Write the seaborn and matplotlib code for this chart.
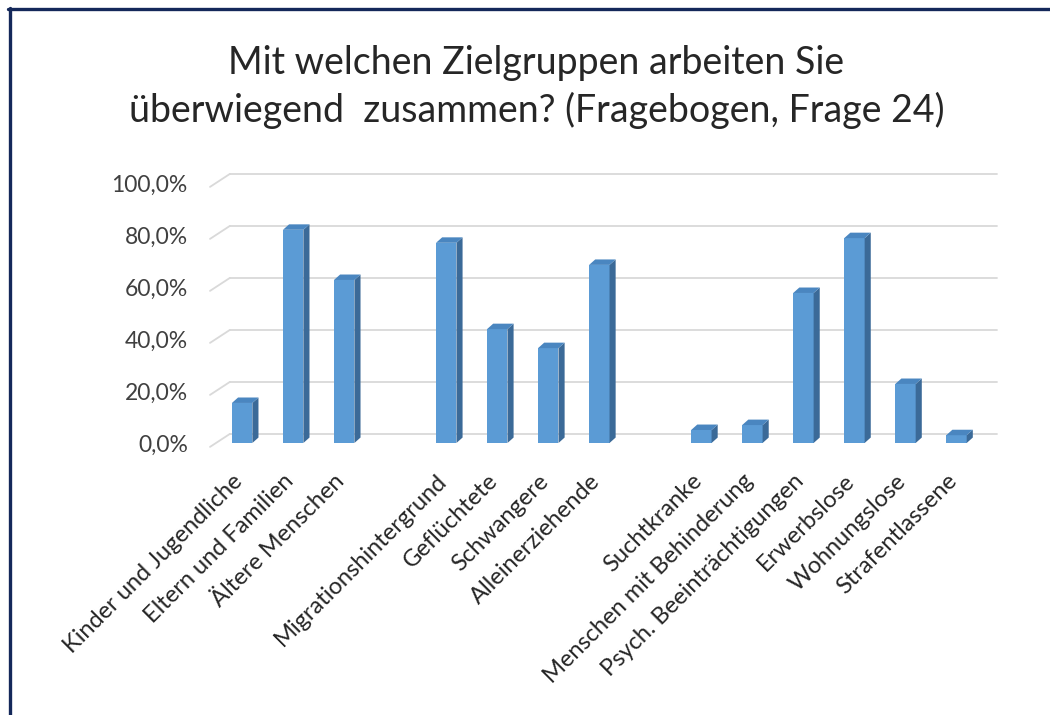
import matplotlib
matplotlib.use("Agg")
import matplotlib.pyplot as plt
from matplotlib.patches import Polygon
from matplotlib.transforms import ScaledTranslation
import numpy as np
import pandas as pd
import seaborn as sns

# data (percent of respondents)
gruppen = ["Kinder und Jugendliche", "Eltern und Familien", "Ältere Menschen",
           "Migrationshintergrund", "Geflüchtete", "Schwangere", "Alleinerziehende",
           "Suchtkranke", "Menschen mit Behinderung", "Psych. Beeinträchtigungen",
           "Erwerbslose", "Wohnungslose", "Strafentlassene"]
anteile = [15.4, 82.0, 62.7, 77.0, 43.8, 36.5, 68.5,
           5.0, 6.9, 57.7, 78.8, 22.7, 3.0]
# empty slots between the three blocks
reihenfolge = gruppen[:3] + [" "] + gruppen[3:7] + ["  "] + gruppen[7:]
yticks = [0, 20, 40, 60, 80, 100]
ytick_labels = ["0,0%", "20,0%", "40,0%", "60,0%", "80,0%", "100,0%"]
titel = "Mit welchen Zielgruppen arbeiten Sie\nüberwiegend  zusammen? (Fragebogen, Frage 24)"

df = pd.DataFrame({"gruppe": gruppen, "anteil": anteile})

sns.set_theme(style="white")
plt.rcParams["font.family"] = ["Lato", "DejaVu Sans"]

fig = plt.figure(figsize=(10.5, 7.15), dpi=100)
ax = fig.add_axes([210 / 1050, (715 - 443) / 715, 772 / 1050, 260 / 715])

front = "#5b9bd5"
side = "#3b6a98"
top = "#4a86c0"
sns.barplot(data=df, x="gruppe", y="anteil", order=reihenfolge, color=front,
            width=0.4, errorbar=None, saturation=1, ax=ax, zorder=3)

# pseudo 3D: side and top faces from the drawn bars
dx, dy = 0.12, 2.1
for p in list(ax.patches):
    h = p.get_height()
    if not np.isfinite(h):
        continue
    x0, w = p.get_x(), p.get_width()
    p.set_edgecolor("none")
    ax.add_patch(Polygon([(x0 + w, 0), (x0 + w + dx, dy), (x0 + w + dx, h + dy), (x0 + w, h)],
                         closed=True, facecolor=side, edgecolor="none", zorder=3))
    ax.add_patch(Polygon([(x0, h), (x0 + dx, h + dy), (x0 + w + dx, h + dy), (x0 + w, h)],
                         closed=True, facecolor=top, edgecolor="none", zorder=3))

ax.set_xlim(-0.63, 14.5)
ax.set_ylim(0, 100)

# back wall gridlines with the short slanted side lines
xl = -0.63
for v in yticks:
    ax.plot([xl, xl + 0.39], [v - 1.5, v + 3.5], color="#d9d9d9", lw=1.3,
            clip_on=False, zorder=1)
    ax.plot([xl + 0.39, 14.8], [v + 3.5, v + 3.5], color="#d9d9d9", lw=1.3,
            clip_on=False, zorder=1)

ax.set_yticks(yticks)
ax.set_yticklabels(ytick_labels, fontsize=16.5, color="#404040")
ax.tick_params(axis="y", length=0, pad=16)
ax.set_xticks(range(len(reihenfolge)))
ax.set_xticklabels(reihenfolge, rotation=45, ha="right", va="center",
                   rotation_mode="anchor", fontsize=17, color="#262626")
ax.tick_params(axis="x", length=0, pad=25)
shift = ScaledTranslation(-3 / 100, 0, fig.dpi_scale_trans)
for lab in ax.get_xticklabels():
    lab.set_transform(lab.get_transform() + shift)
ax.set_xlabel("")
ax.set_ylabel("")
for s in ax.spines.values():
    s.set_visible(False)
ax.patch.set_alpha(0)

fig.text(0.511, 0.878, titel, ha="center", va="center", fontsize=27,
         color="#262626", linespacing=1.35)

# dark frame on top and left as in the screenshot
fig.add_artist(plt.Line2D([8 / 1050, 1], [1 - 8.5 / 715, 1 - 8.5 / 715],
                          color="#14285a", lw=2.4, transform=fig.transFigure))
fig.add_artist(plt.Line2D([9.5 / 1050, 9.5 / 1050], [0, 1 - 8 / 715],
                          color="#14285a", lw=2.4, transform=fig.transFigure))

fig.savefig("out.png", dpi=100, facecolor="white")
